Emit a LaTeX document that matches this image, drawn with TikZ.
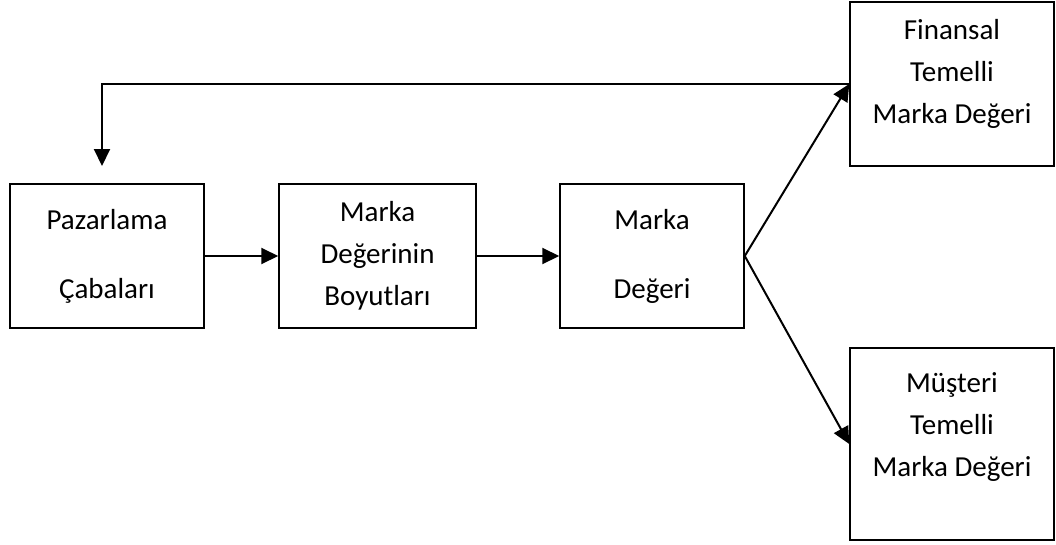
\documentclass[tikz,border=0pt]{standalone}
\usepackage{fontspec}
\setmainfont{Carlito}
\usetikzlibrary{arrows.meta}
\tikzset{
  box/.style   = {draw, line width=1.5pt, align=center, inner sep=0pt,
                  font=\fontsize{29}{42}\selectfont},
  arrow/.style = {-{Triangle[length=17pt, width=16pt]}, line width=2pt},
}

\begin{document}
\begin{tikzpicture}[x=1pt, y=-1pt]
  \useasboundingbox (0,0) rectangle (1056,544);
  % main chain
  \node[box, minimum width=194pt, minimum height=144pt] (pc) at (107,256)
    {Pazarlama\\[27pt]Çabaları};
  \node[box, minimum width=197pt, minimum height=144pt] (mdb) at (377.5,256)
    {Marka\\Değerinin\\Boyutları};
  \node[box, minimum width=184pt, minimum height=144pt] (md) at (652,256)
    {Marka\\[27pt]Değeri};
  % outcome boxes
  \node[box, minimum width=204pt, minimum height=164pt] (fmd) at (952,84)
    {Finansal\\Temelli\\Marka Değeri\rule[-26pt]{0pt}{0pt}};
  \node[box, minimum width=204pt, minimum height=192pt] (mtmd) at (952,444)
    {Müşteri\\Temelli\\Marka Değeri\rule[-38pt]{0pt}{0pt}};
  % arrows
  \draw[arrow] (pc) -- (mdb);
  \draw[arrow] (mdb) -- (md);
  \draw[arrow] (md.east) -- (fmd.west);
  \draw[arrow] (md.east) -- (mtmd.west);
  % feedback loop
  \coordinate (fbend) at (102,166);
  \draw[arrow] (fmd.west) -| (fbend);
\end{tikzpicture}
\end{document}
